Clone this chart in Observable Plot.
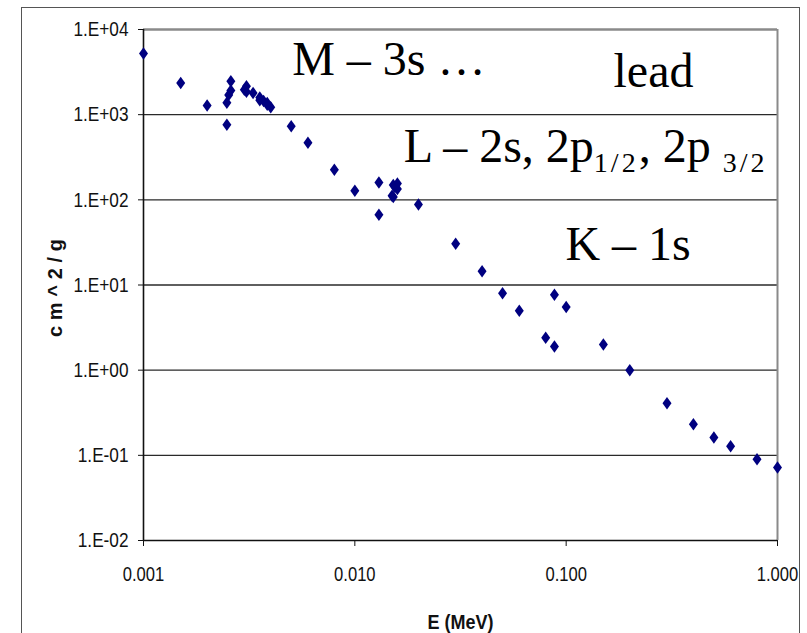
<!DOCTYPE html>
<html><head><meta charset="utf-8">
<script src="https://cdn.jsdelivr.net/npm/d3@7"></script>
<script src="https://cdn.jsdelivr.net/npm/@observablehq/plot@0.6"></script>
<style>
html,body{margin:0;padding:0;background:#fff;}
#wrap{position:relative;width:807px;height:633px;overflow:hidden;background:#fff;}
#chart{position:absolute;left:0;top:0;}
#border{position:absolute;left:21px;top:7px;width:779px;height:700px;border:1.5px solid #555;box-sizing:border-box;pointer-events:none;z-index:2;}
</style></head><body>
<div id="wrap"><div id="chart"></div><div id="border"></div></div>
<script>
// Photon mass attenuation coefficient of lead (cm^2/g) vs photon energy (MeV)
const energyMeV = [0.001, 0.0015, 0.002, 0.00248, 0.00248, 0.00253, 0.00259, 0.00259, 0.003, 0.00307, 0.00307, 0.0033, 0.00355, 0.00355, 0.0037, 0.00385, 0.00385, 0.004, 0.005, 0.006, 0.008, 0.01, 0.013, 0.013, 0.015, 0.0152, 0.0152, 0.0155, 0.0159, 0.0159, 0.02, 0.03, 0.04, 0.05, 0.06, 0.08, 0.088, 0.088, 0.1, 0.15, 0.2, 0.3, 0.4, 0.5, 0.6, 0.8, 1.0];
const attenuation = [5210, 2360, 1285, 760, 1380, 1700, 1920, 2460, 1965, 1860, 2150, 1800, 1480, 1590, 1450, 1310, 1370, 1220, 730, 467, 225, 128, 67, 160, 112, 108, 149, 141, 134, 156, 88, 30.5, 14.5, 8.0, 5.0, 2.4, 1.9, 7.7, 5.5, 2.0, 1.0, 0.41, 0.232, 0.162, 0.128, 0.09, 0.072];

const yTicks = [0.01, 0.1, 1, 10, 100, 1000, 10000];
const yTickLabels = ["1.E-02", "1.E-01", "1.E+00", "1.E+01", "1.E+02", "1.E+03", "1.E+04"];
const xTicks = [0.001, 0.01, 0.1, 1];
const xTickLabels = ["0.001", "0.010", "0.100", "1.000"];

const annotationLabels = ["M – 3s …", "lead", "L – 2s, 2p_{1/2}, 2p _{3/2}", "K – 1s"];
const annotationE = [0.00505, 0.1675, 0.01702, 0.0992];
const annotationV = [2910, 2085, 279, 19.6];

const xLabel = "E (MeV)";
const yLabel = "c m ^ 2 / g";

const points = energyMeV.map((e, i) => ({E: e, v: attenuation[i]}));
const annotations = annotationLabels.map((t, i) => ({label: t, E: annotationE[i], v: annotationV[i]}));

// tall diamond symbol (Excel-style marker)
const tallDiamond = {
  draw(context, size) {
    const r = Math.sqrt(size / Math.PI);
    const w = 0.9 * r, h = 1.25 * r;
    context.moveTo(0, -h);
    context.lineTo(w, 0);
    context.lineTo(0, h);
    context.lineTo(-w, 0);
    context.closePath();
  }
};

const gridTicks = yTicks.slice(1, -1);

const chart = Plot.plot({
  width: 807,
  height: 633,
  marginLeft: 143,
  marginRight: 30,
  marginTop: 29,
  marginBottom: 93,
  style: {fontFamily: "'Liberation Sans', Arial, sans-serif", color: "#111", background: "white"},
  x: {type: "log", domain: [0.001, 1]},
  y: {type: "log", domain: [0.01, 10000]},
  marks: [
    Plot.ruleY(gridTicks, {stroke: "#2a2a2a", strokeWidth: 1.4}),
    Plot.ruleY([yTicks[yTicks.length - 1]], {stroke: "#8a8a8a", strokeWidth: 2.5}),
    Plot.ruleX([xTicks[xTicks.length - 1]], {stroke: "#8a8a8a", strokeWidth: 2}),
    Plot.ruleY([yTicks[0]], {stroke: "#111", strokeWidth: 1.6}),
    Plot.ruleX([xTicks[0]], {stroke: "#111", strokeWidth: 1.6}),
    Plot.axisY({
      ticks: yTicks,
      tickFormat: d => yTickLabels[yTicks.indexOf(d)],
      tickSize: 5,
      tickPadding: 10,
      fontSize: 21,
      label: null,
      stroke: "#111"
    }),
    Plot.axisX({
      ticks: xTicks,
      tickFormat: d => xTickLabels[xTicks.indexOf(d)],
      tickSize: 6,
      tickPadding: 20,
      fontSize: 21,
      label: null,
      stroke: "#111"
    }),
    Plot.dot(points, {x: "E", y: "v", symbol: tallDiamond, r: 5, fill: "#000080", stroke: "none"}),
    Plot.text(annotations, {
      x: "E", y: "v", text: "label",
      textAnchor: "start", lineAnchor: "bottom",
      fontSize: 48, fontFamily: "'Liberation Serif', 'Times New Roman', serif", fill: "#000"
    }),
    Plot.text([xLabel], {
      frameAnchor: "bottom", text: d => d, dy: 88, lineAnchor: "bottom", textAnchor: "middle",
      fontSize: 20, fontWeight: "bold", fill: "#111"
    }),
    Plot.text([yLabel], {
      frameAnchor: "left", text: d => d, dx: -88, dy: 3, rotate: -90, lineAnchor: "middle", textAnchor: "middle",
      fontSize: 20, fontWeight: "bold", fill: "#111"
    })
  ]
});

document.getElementById("chart").append(chart);

const svg = d3.select(chart);
function squish(sel, ratio, adjust = "spacingAndGlyphs") {
  sel.each(function () {
    const w = this.getComputedTextLength();
    if (w > 0) {
      this.setAttribute("textLength", (w * ratio).toFixed(2));
      this.setAttribute("lengthAdjust", adjust);
    }
  });
}
squish(svg.selectAll('g[aria-label="y-axis tick label"] text'), 0.82);
squish(svg.selectAll('g[aria-label="x-axis tick label"] text'), 0.79);

svg.selectAll("text").each(function () {
  const s = this.textContent;
  if (s === yLabel) {
    const w = this.getComputedTextLength();
    if (w > 0) { this.setAttribute("textLength", 98); this.setAttribute("lengthAdjust", "spacing"); }
  } else if (s === xLabel) {
    const w = this.getComputedTextLength();
    if (w > 0) { this.setAttribute("textLength", (w * 0.9).toFixed(2)); this.setAttribute("lengthAdjust", "spacingAndGlyphs"); }
  }
});

// subscripts in annotations
const ns = "http://www.w3.org/2000/svg";
svg.selectAll("text").each(function () {
  const s = this.textContent;
  if (!s.includes("_{")) return;
  const parts = s.split(/(_\{[^}]*\})/).filter(p => p.length);
  this.textContent = "";
  let shifted = false;
  for (const p of parts) {
    const t = document.createElementNS(ns, "tspan");
    if (p.startsWith("_{")) {
      t.textContent = p.slice(2, -1);
      t.setAttribute("font-size", 28);
      t.setAttribute("letter-spacing", 3);
      if (!shifted) t.setAttribute("dy", 10);
      shifted = true;
    } else {
      t.textContent = p;
      if (shifted) { t.setAttribute("dy", -10); shifted = false; }
    }
    this.appendChild(t);
  }
});
</script>
</body></html>
